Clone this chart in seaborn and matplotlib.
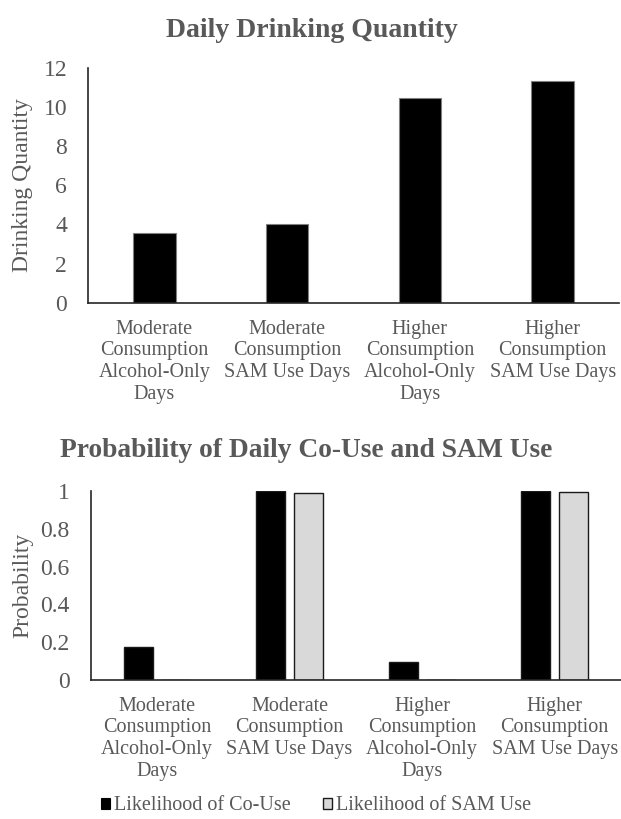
import matplotlib
matplotlib.use("Agg")
import matplotlib.pyplot as plt
import seaborn as sns
import pandas as pd
from matplotlib.patches import Patch

categories = [
    "Moderate\nConsumption\nAlcohol-Only\nDays",
    "Moderate\nConsumption\nSAM Use Days",
    "Higher\nConsumption\nAlcohol-Only\nDays",
    "Higher\nConsumption\nSAM Use Days",
]
drinking_quantity = [3.57, 4.04, 10.43, 11.3]
prob_couse = [0.176, 1.0, 0.094, 1.0]
prob_sam = [0.0, 0.988, 0.0, 0.997]
series_names = ["Likelihood of Co-Use", "Likelihood of SAM Use"]
top_yticks = [0, 2, 4, 6, 8, 10, 12]
bottom_yticks = [0, 0.2, 0.4, 0.6, 0.8, 1.0]
bottom_ytick_labels = ["0", "0.2", "0.4", "0.6", "0.8", "1"]

sns.set_style("white")
plt.rcParams["font.family"] = ["Liberation Serif", "DejaVu Serif"]

TXT = "#595959"
W, H = 621, 819
fig = plt.figure(figsize=(W / 100, H / 100), dpi=100)

ax1 = fig.add_axes([88 / W, 1 - 303 / H, (619 - 88) / W, (303 - 67.5) / H])
ax2 = fig.add_axes([90.7 / W, 1 - 680 / H, (621 - 90.7) / W, (680 - 491) / H])

df1 = pd.DataFrame({"cat": categories, "val": drinking_quantity})
sns.barplot(data=df1, x="cat", y="val", color="black", width=0.32,
            edgecolor="#808080", linewidth=0.8, saturation=1, ax=ax1)

df2 = pd.DataFrame({
    "cat": categories * 2,
    "val": prob_couse + prob_sam,
    "series": [series_names[0]] * 4 + [series_names[1]] * 4,
})
sns.barplot(data=df2, x="cat", y="val", hue="series",
            palette={series_names[0]: "black", series_names[1]: "#d9d9d9"},
            width=0.57, gap=0.23, edgecolor="#1a1a1a", linewidth=1.0,
            saturation=1, legend=False, ax=ax2)

for ax, ticks, labels, ylim, ylabel, lx in [
    (ax1, top_yticks, [str(t) for t in top_yticks], (0, 12), "Drinking Quantity", -0.1036),
    (ax2, bottom_yticks, bottom_ytick_labels, (0, 1), "Probability", -0.109),
]:
    ax.set_xlim(-0.5, 3.5)
    ax.set_ylim(*ylim)
    ax.set_yticks(ticks)
    ax.set_yticklabels(labels)
    ax.set_xticks(range(len(categories)))
    ax.set_xticklabels(categories, linespacing=1.19)
    ax.set_xlabel("")
    ax.set_ylabel(ylabel, fontsize=17, color=TXT)
    ax.yaxis.set_label_coords(lx, 0.5)
    ax.tick_params(axis="x", length=0, labelsize=14.5, labelcolor=TXT, pad=12)
    ax.tick_params(axis="y", length=0, labelsize=17, labelcolor=TXT, pad=15)
    for s in ["top", "right"]:
        ax.spines[s].set_visible(False)
    for s in ["left", "bottom"]:
        ax.spines[s].set_color("#262626")
        ax.spines[s].set_linewidth(1.2)
    ax.grid(False)

fig.text(312 / W, 1 - 37 / H, "Daily Drinking Quantity", ha="center", va="baseline",
         fontsize=20, fontweight="bold", color=TXT)
fig.text(306 / W, 1 - 457 / H, "Probability of Daily Co-Use and SAM Use", ha="center",
         va="baseline", fontsize=19.8, fontweight="bold", color=TXT)

handles = [Patch(facecolor="black", edgecolor="black", linewidth=0.8),
           Patch(facecolor="#d9d9d9", edgecolor="#1a1a1a", linewidth=1.0)]
leg = fig.legend(handles, series_names, loc="center", bbox_to_anchor=(316 / W, 1 - 806 / H),
                 ncol=2, frameon=False, fontsize=14.5, handlelength=0.45, handleheight=0.45,
                 handletextpad=0.2, columnspacing=1.6, labelcolor=TXT,
                 borderpad=0.1)

fig.savefig("out.png", dpi=100)
